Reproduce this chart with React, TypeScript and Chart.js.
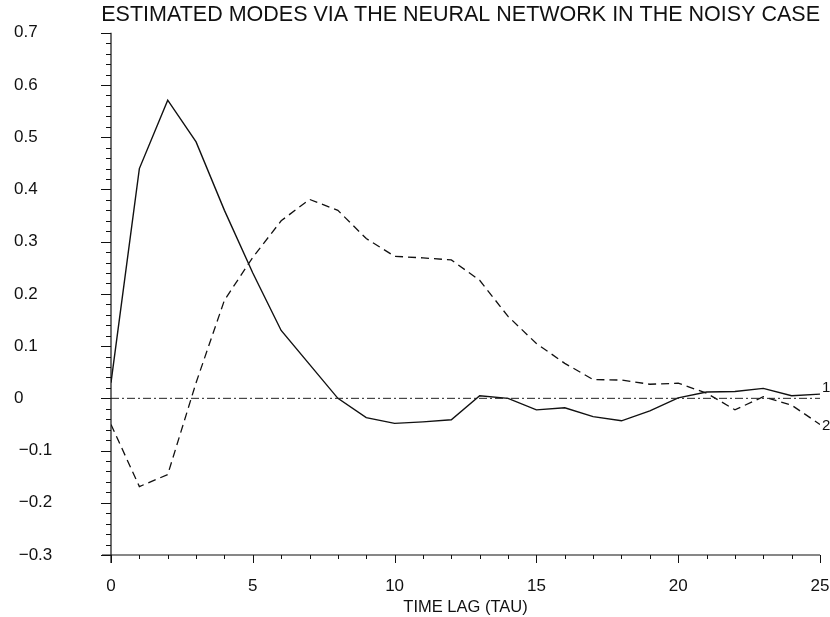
import React, { useEffect, useRef } from "react";
import { Chart, registerables } from "chart.js";

Chart.register(...registerables);

// ---- Data ----
const tau = [0, 1, 2, 3, 4, 5, 6, 7, 8, 9, 10, 11, 12, 13, 14, 15, 16, 17, 18, 19, 20, 21, 22, 23, 24, 25];
const mode1 = [0.03, 0.44, 0.571, 0.491, 0.36, 0.24, 0.13, 0.065, 0.0, -0.037, -0.048, -0.045, -0.041, 0.005, 0.0, -0.022, -0.018, -0.035, -0.043, -0.024, 0.001, 0.012, 0.013, 0.019, 0.005, 0.008];
const mode2 = [-0.05, -0.169, -0.146, 0.03, 0.188, 0.27, 0.34, 0.381, 0.36, 0.306, 0.272, 0.269, 0.265, 0.226, 0.157, 0.105, 0.067, 0.036, 0.035, 0.027, 0.029, 0.01, -0.022, 0.003, -0.013, -0.05];
const zeroLineX = [0, 25];
const zeroLineY = [0, 0];
const seriesLabels = ["1", "2"];
const titleText = "ESTIMATED MODES VIA THE NEURAL NETWORK IN THE NOISY CASE";
const xTitle = "TIME LAG (TAU)";

const FONT = "'Liberation Sans', Arial, sans-serif";

const axesPlugin = {
  id: "axesPlugin",
  afterDatasetsDraw(chart: any) {
    const { ctx, chartArea, scales } = chart;
    const xs = scales.x;
    const ys = scales.y;
    const left = chartArea.left;
    const bottom = chartArea.bottom;
    ctx.save();
    ctx.strokeStyle = "#111";
    ctx.lineWidth = 1.2;
    ctx.beginPath();
    // y axis line
    ctx.moveTo(left, chartArea.top);
    ctx.lineTo(left, bottom + 8);
    // x axis line
    ctx.moveTo(left - 9, bottom);
    ctx.lineTo(chartArea.right, bottom);
    ctx.stroke();

    ctx.lineWidth = 1;
    ctx.beginPath();
    // y ticks: minor every 0.02, major every 0.1
    for (let i = 0; i <= 50; i++) {
      const v = -0.3 + i * 0.02;
      const py = Math.round(ys.getPixelForValue(v)) + 0.5;
      const len = i % 5 === 0 ? 10 : 5;
      ctx.moveTo(left - len, py);
      ctx.lineTo(left, py);
    }
    // x ticks: minor every 1, major every 5
    for (let t = 0; t <= 25; t++) {
      const px = Math.round(xs.getPixelForValue(t)) + 0.5;
      const len = t % 5 === 0 ? 8 : 4;
      ctx.moveTo(px, bottom);
      ctx.lineTo(px, bottom + len);
    }
    ctx.stroke();

    // series labels at right end
    ctx.fillStyle = "#111";
    ctx.font = "15px " + FONT;
    ctx.textAlign = "left";
    ctx.textBaseline = "middle";
    const lx = xs.getPixelForValue(tau[tau.length - 1]) + 2;
    ctx.fillText(seriesLabels[0], lx, ys.getPixelForValue(mode1[mode1.length - 1]) - 6);
    ctx.fillText(seriesLabels[1], lx, ys.getPixelForValue(mode2[mode2.length - 1]) + 1);
    ctx.restore();
  },
};

function fmtY(v: number): string {
  if (Math.abs(v) < 1e-9) return "0";
  const s = Math.abs(v).toFixed(1);
  return v < 0 ? " \u2212" + s : s;
}

export default function App() {
  const ref = useRef<HTMLCanvasElement | null>(null);

  useEffect(() => {
    if (!ref.current) return;
    const chart = new Chart(ref.current, {
      type: "line",
      data: {
        datasets: [
          {
            label: "zero",
            data: zeroLineX.map((x, i) => ({ x, y: zeroLineY[i] })),
            borderColor: "#222",
            borderWidth: 1,
            borderDash: [8, 3, 2, 3],
            pointRadius: 0,
            tension: 0,
          },
          {
            label: "Mode 1",
            data: tau.map((x, i) => ({ x, y: mode1[i] })),
            borderColor: "#111",
            borderWidth: 1.4,
            pointRadius: 0,
            tension: 0,
          },
          {
            label: "Mode 2",
            data: tau.map((x, i) => ({ x, y: mode2[i] })),
            borderColor: "#111",
            borderWidth: 1.3,
            borderDash: [8, 5],
            pointRadius: 0,
            tension: 0,
          },
        ],
      },
      options: {
        responsive: false,
        animation: false,
        devicePixelRatio: 1,
        layout: { padding: { left: 14, right: 10, top: 0, bottom: 0 } },
        plugins: {
          legend: { display: false },
          tooltip: { enabled: false },
          title: {
            display: true,
            text: titleText,
            align: "end",
            color: "#111",
            font: { family: FONT, size: 21.5, weight: "normal" },
            padding: { top: 2, bottom: 5 },
          },
        },
        scales: {
          x: {
            type: "linear",
            min: 0,
            max: 25,
            grid: { display: false, drawTicks: false },
            border: { display: false },
            ticks: {
              stepSize: 5,
              padding: 21,
              color: "#111",
              font: { family: FONT, size: 17 },
              maxRotation: 0,
            },
            title: {
              display: true,
              text: xTitle,
              color: "#111",
              font: { family: FONT, size: 16.5 },
              padding: { top: 0, bottom: 0 },
            },
            afterFit: (scale: any) => {
              scale.height = 62;
              scale.paddingLeft = 0;
              scale.paddingRight = 0;
            },
          },
          y: {
            type: "linear",
            min: -0.3,
            max: 0.7,
            grid: { display: false, drawTicks: false },
            border: { display: false },
            ticks: {
              stepSize: 0.1,
              crossAlign: "far",
              color: "#111",
              font: { family: FONT, size: 17 },
              callback: (v: any) => fmtY(Number(v)),
            },
            afterFit: (scale: any) => {
              scale.width = 97;
              scale.paddingTop = 0;
              scale.paddingBottom = 0;
            },
          },
        },
      },
      plugins: [axesPlugin],
    } as any);
    return () => chart.destroy();
  }, []);

  return (
    <div style={{ position: "absolute", left: 0, top: 0, width: 830, height: 617, background: "#fff" }}>
      <canvas ref={ref} width={830} height={617} />
    </div>
  );
}
